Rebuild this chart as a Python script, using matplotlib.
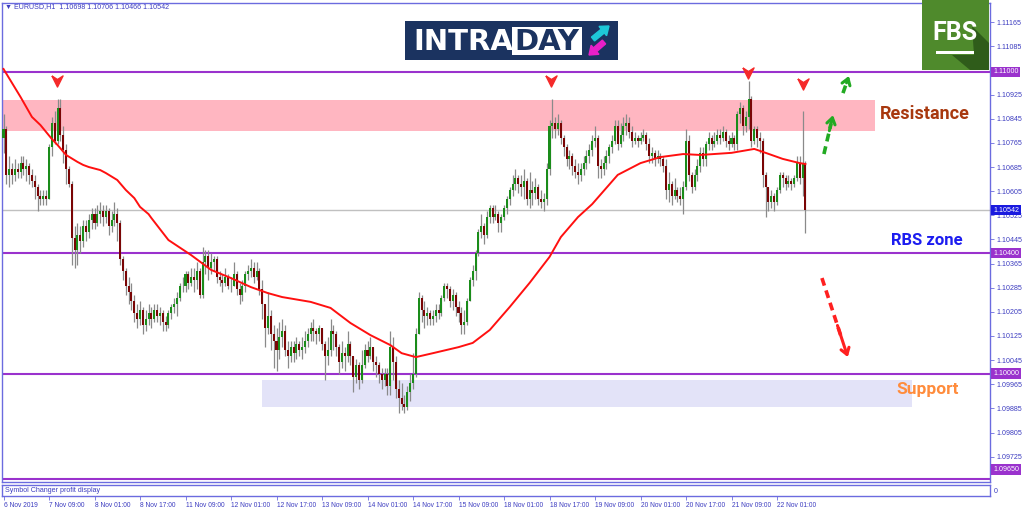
import numpy as np
import matplotlib
matplotlib.use("Agg")
import matplotlib.pyplot as plt
from matplotlib.patches import Rectangle, Polygon, FancyArrow

# --- EURUSD H1 candles ---
first_open = 1.1078
closes = [
    1.1081, 1.1066, 1.1068, 1.1066, 1.1068, 1.1067, 1.1070, 1.1068, 1.1069, 1.1066,
    1.1064, 1.1062, 1.1059, 1.1058, 1.1059, 1.1058, 1.1075, 1.1083, 1.1077, 1.1088,
    1.1079, 1.1074, 1.1068, 1.1063, 1.1045, 1.1041, 1.1046, 1.1044, 1.1049, 1.1047,
    1.1051, 1.1053, 1.1050, 1.1053, 1.1054, 1.1052, 1.1054, 1.1049, 1.1051, 1.1053,
    1.1050, 1.1038, 1.1034, 1.1029, 1.1027, 1.1024, 1.1020, 1.1018, 1.1021, 1.1016,
    1.1018, 1.1020, 1.1018, 1.1021, 1.1019, 1.1020, 1.1017, 1.1016, 1.1020, 1.1022,
    1.1023, 1.1025, 1.1029, 1.1029, 1.1033, 1.1030, 1.1032, 1.1031, 1.1034, 1.1026,
    1.1037, 1.1039, 1.1035, 1.1037, 1.1038, 1.1032, 1.1031, 1.1030, 1.1032, 1.1029,
    1.1029, 1.1033, 1.1028, 1.1026, 1.1029, 1.1033, 1.1034, 1.1035, 1.1032, 1.1034,
    1.1028, 1.1023, 1.1015, 1.1019, 1.1013, 1.1011, 1.1008, 1.1012, 1.1014, 1.1008,
    1.1006, 1.1009, 1.1007, 1.1010, 1.1008, 1.1009, 1.1011, 1.1013, 1.1015, 1.1014,
    1.1013, 1.1015, 1.1010, 1.1006, 1.1008, 1.1014, 1.1013, 1.1009, 1.1004, 1.1007,
    1.1006, 1.1010, 1.1006, 1.0999, 1.1003, 1.0998, 1.1003, 1.1008, 1.1006, 1.1009,
    1.1004, 1.1003, 1.1000, 1.0998, 1.1000, 1.0996, 1.1009, 1.1004, 1.0995, 1.0992,
    1.0990, 1.0989, 1.0994, 1.0997, 1.1000, 1.1013, 1.1025, 1.1021, 1.1019, 1.1020,
    1.1018, 1.1019, 1.1021, 1.1020, 1.1025, 1.1029, 1.1028, 1.1024, 1.1026, 1.1022,
    1.1020, 1.1016, 1.1017, 1.1024, 1.1031, 1.1034, 1.1040, 1.1047, 1.1049, 1.1046,
    1.1052, 1.1055, 1.1052, 1.1053, 1.1050, 1.1052, 1.1055, 1.1058, 1.1061, 1.1063,
    1.1065, 1.1063, 1.1062, 1.1064, 1.1058, 1.1061, 1.1060, 1.1062, 1.1058, 1.1057,
    1.1058, 1.1068, 1.1082, 1.1083, 1.1081, 1.1083, 1.1078, 1.1075, 1.1071, 1.1072,
    1.1069, 1.1067, 1.1066, 1.1068, 1.1070, 1.1072, 1.1074, 1.1077, 1.1078, 1.1069,
    1.1068, 1.1070, 1.1072, 1.1075, 1.1077, 1.1082, 1.1076, 1.1079, 1.1082, 1.1083,
    1.1080, 1.1077, 1.1078, 1.1077, 1.1078, 1.1079, 1.1076, 1.1072, 1.1073, 1.1071,
    1.1072, 1.1071, 1.1069, 1.1061, 1.1063, 1.1059, 1.1061, 1.1059, 1.1058, 1.1062,
    1.1077, 1.1066, 1.1062, 1.1066, 1.1069, 1.1073, 1.1071, 1.1076, 1.1078, 1.1076,
    1.1077, 1.1079, 1.1078, 1.1080, 1.1077, 1.1076, 1.1078, 1.1076, 1.1086, 1.1088,
    1.1082, 1.1085, 1.1091, 1.1077, 1.1081, 1.1078, 1.1077, 1.1066, 1.1062, 1.1057,
    1.1059, 1.1057, 1.1061, 1.1066, 1.1065, 1.1063, 1.1064, 1.1063, 1.1065, 1.1070,
    1.1065, 1.10698, 1.10542,
]
highs = [
    1.1086, 1.1082, 1.1072, 1.1070, 1.1071, 1.1070, 1.1072, 1.1072, 1.1071, 1.1070,
    1.1068, 1.1066, 1.1063, 1.1061, 1.1061, 1.1061, 1.1076, 1.1085, 1.1087, 1.1091,
    1.1091, 1.1082, 1.1076, 1.1069, 1.1064, 1.1049, 1.1050, 1.1049, 1.1051, 1.1051,
    1.1053, 1.1055, 1.1055, 1.1056, 1.1057, 1.1056, 1.1056, 1.1055, 1.1054, 1.1057,
    1.1055, 1.1051, 1.1039, 1.1035, 1.1032, 1.1030, 1.1026, 1.1023, 1.1024, 1.1022,
    1.1021, 1.1023, 1.1022, 1.1023, 1.1023, 1.1022, 1.1021, 1.1019, 1.1021, 1.1023,
    1.1025, 1.1027, 1.1030, 1.1032, 1.1034, 1.1034, 1.1035, 1.1035, 1.1037, 1.1035,
    1.1042, 1.1041, 1.1041, 1.1040, 1.1039, 1.1039, 1.1034, 1.1033, 1.1035, 1.1033,
    1.1032, 1.1037, 1.1034, 1.1030, 1.1031, 1.1034, 1.1036, 1.1038, 1.1037, 1.1037,
    1.1035, 1.1031, 1.1023, 1.1027, 1.1021, 1.1016, 1.1015, 1.1017, 1.1018, 1.1016,
    1.1011, 1.1011, 1.1011, 1.1012, 1.1011, 1.1012, 1.1014, 1.1015, 1.1017, 1.1018,
    1.1015, 1.1016, 1.1015, 1.1011, 1.1012, 1.1018, 1.1016, 1.1014, 1.1010, 1.1011,
    1.1009, 1.1014, 1.1011, 1.1006, 1.1005, 1.1004, 1.1008, 1.1010, 1.1011, 1.1012,
    1.1009, 1.1006, 1.1004, 1.1002, 1.1002, 1.1002, 1.1014, 1.1012, 1.1006, 1.0998,
    1.0997, 1.0993, 1.0996, 1.1000, 1.1007, 1.1015, 1.1027, 1.1026, 1.1024, 1.1022,
    1.1021, 1.1021, 1.1023, 1.1023, 1.1026, 1.1030, 1.1030, 1.1029, 1.1028, 1.1027,
    1.1024, 1.1022, 1.1021, 1.1025, 1.1032, 1.1036, 1.1041, 1.1048, 1.1053, 1.1050,
    1.1054, 1.1056, 1.1056, 1.1056, 1.1054, 1.1053, 1.1056, 1.1059, 1.1062, 1.1066,
    1.1068, 1.1066, 1.1066, 1.1068, 1.1065, 1.1067, 1.1064, 1.1065, 1.1063, 1.1061,
    1.1060, 1.1070, 1.1084, 1.1091, 1.1085, 1.1086, 1.1084, 1.1079, 1.1076, 1.1074,
    1.1073, 1.1071, 1.1070, 1.1070, 1.1072, 1.1074, 1.1076, 1.1079, 1.1082, 1.1079,
    1.1071, 1.1072, 1.1074, 1.1076, 1.1079, 1.1084, 1.1084, 1.1083, 1.1085, 1.1086,
    1.1085, 1.1082, 1.1080, 1.1079, 1.1080, 1.1081, 1.1080, 1.1078, 1.1075, 1.1074,
    1.1074, 1.1073, 1.1072, 1.1071, 1.1067, 1.1064, 1.1065, 1.1062, 1.1062, 1.1064,
    1.1081, 1.1079, 1.1067, 1.1068, 1.1071, 1.1075, 1.1075, 1.1077, 1.1080, 1.1079,
    1.1080, 1.1081, 1.1081, 1.1082, 1.1081, 1.1079, 1.1080, 1.1079, 1.1087, 1.1090,
    1.1089, 1.1087, 1.1097, 1.1092, 1.1082, 1.1082, 1.1080, 1.1078, 1.1067, 1.1062,
    1.1061, 1.1060, 1.1062, 1.1067, 1.1067, 1.1066, 1.1066, 1.1065, 1.1066, 1.1072,
    1.1072, 1.1087, 1.10706,
]
lows = [
    1.1073, 1.1063, 1.1062, 1.1063, 1.1064, 1.1065, 1.1065, 1.1066, 1.1064, 1.1063,
    1.1062, 1.1058, 1.1054, 1.1056, 1.1056, 1.1056, 1.1058, 1.1072, 1.1076, 1.1076,
    1.1077, 1.1070, 1.1063, 1.1062, 1.1036, 1.1035, 1.1036, 1.1040, 1.1042, 1.1044,
    1.1045, 1.1048, 1.1048, 1.1049, 1.1050, 1.1049, 1.1050, 1.1046, 1.1047, 1.1049,
    1.1044, 1.1036, 1.1031, 1.1026, 1.1023, 1.1021, 1.1017, 1.1015, 1.1016, 1.1013,
    1.1014, 1.1016, 1.1015, 1.1017, 1.1017, 1.1016, 1.1014, 1.1014, 1.1015, 1.1018,
    1.1020, 1.1019, 1.1024, 1.1027, 1.1027, 1.1028, 1.1029, 1.1027, 1.1028, 1.1025,
    1.1025, 1.1033, 1.1031, 1.1033, 1.1034, 1.1030, 1.1029, 1.1027, 1.1029, 1.1028,
    1.1027, 1.1029, 1.1026, 1.1023, 1.1024, 1.1027, 1.1031, 1.1032, 1.1030, 1.1031,
    1.1026, 1.1018, 1.1009, 1.1013, 1.1008, 1.1002, 1.1001, 1.1005, 1.1009, 1.1006,
    1.1002, 1.1004, 1.1004, 1.1005, 1.1006, 1.1005, 1.1007, 1.1009, 1.1011, 1.1011,
    1.1010, 1.1011, 1.1008, 1.0998, 1.1003, 1.1006, 1.1008, 1.1006, 1.1000, 1.1002,
    1.1001, 1.1004, 1.1003, 1.0994, 1.0997, 1.0995, 1.0997, 1.1002, 1.1004, 1.1005,
    1.1001, 1.0999, 1.0997, 1.0995, 1.0996, 1.0993, 1.0993, 1.0998, 1.0992, 1.0987,
    1.0988, 1.0987, 1.0988, 1.0991, 1.0995, 1.0999, 1.1013, 1.1017, 1.1015, 1.1016,
    1.1016, 1.1016, 1.1017, 1.1018, 1.1019, 1.1024, 1.1025, 1.1022, 1.1021, 1.1019,
    1.1017, 1.1013, 1.1013, 1.1016, 1.1024, 1.1029, 1.1031, 1.1039, 1.1045, 1.1043,
    1.1045, 1.1050, 1.1050, 1.1051, 1.1047, 1.1047, 1.1051, 1.1053, 1.1056, 1.1059,
    1.1061, 1.1060, 1.1059, 1.1058, 1.1056, 1.1055, 1.1056, 1.1058, 1.1056, 1.1055,
    1.1054, 1.1056, 1.1066, 1.1078, 1.1078, 1.1079, 1.1076, 1.1072, 1.1069, 1.1068,
    1.1066, 1.1065, 1.1063, 1.1064, 1.1066, 1.1068, 1.1070, 1.1072, 1.1075, 1.1065,
    1.1065, 1.1066, 1.1068, 1.1070, 1.1073, 1.1076, 1.1074, 1.1075, 1.1077, 1.1079,
    1.1078, 1.1075, 1.1076, 1.1075, 1.1076, 1.1077, 1.1074, 1.1070, 1.1070, 1.1069,
    1.1070, 1.1069, 1.1067, 1.1058, 1.1057, 1.1056, 1.1058, 1.1057, 1.1056, 1.1053,
    1.1061, 1.1064, 1.1060, 1.1061, 1.1064, 1.1067, 1.1069, 1.1069, 1.1074, 1.1074,
    1.1075, 1.1076, 1.1076, 1.1077, 1.1075, 1.1074, 1.1075, 1.1074, 1.1074, 1.1083,
    1.1079, 1.1080, 1.1081, 1.1075, 1.1076, 1.1075, 1.1073, 1.1062, 1.1052, 1.1054,
    1.1055, 1.1054, 1.1056, 1.1060, 1.1062, 1.1061, 1.1062, 1.1061, 1.1062, 1.1064,
    1.1063, 1.1059, 1.10466,
]

# red moving average, sampled along the line (bar index, price)
ma_bars = [0, 6, 10, 13, 15, 17, 19, 22, 26, 28, 30, 34, 36, 40, 43, 46, 48, 51, 52, 58,
           66, 73, 80, 87, 93, 98, 108, 115, 122, 129, 136, 140, 145, 151, 160, 165, 171,
           178, 185, 192, 196, 202, 207, 216, 224, 231, 239, 245, 256, 264, 268, 274,
           280, 282]
ma_values = [1.11010, 1.10917, 1.10851, 1.10824, 1.10801, 1.10778, 1.10758, 1.10725,
             1.10702, 1.10692, 1.10685, 1.10675, 1.10665, 1.10642, 1.10609, 1.10582,
             1.10553, 1.10529, 1.10516, 1.10443, 1.10393, 1.10344, 1.10317, 1.10287,
             1.10267, 1.10254, 1.10238, 1.10218, 1.10168, 1.10128, 1.10095, 1.10068,
             1.10055, 1.10068, 1.10088, 1.10102, 1.10145, 1.10221, 1.10301, 1.10387,
             1.10453, 1.10519, 1.10562, 1.10659, 1.10698, 1.10718, 1.10728, 1.10725,
             1.10732, 1.10745, 1.10732, 1.10712, 1.10698, 1.10695]

date_labels = ["6 Nov 2019", "7 Nov 09:00", "8 Nov 01:00", "8 Nov 17:00", "11 Nov 09:00",
               "12 Nov 01:00", "12 Nov 17:00", "13 Nov 09:00", "14 Nov 01:00", "14 Nov 17:00",
               "15 Nov 09:00", "18 Nov 01:00", "18 Nov 17:00", "19 Nov 09:00", "20 Nov 01:00",
               "20 Nov 17:00", "21 Nov 09:00", "22 Nov 01:00"]
label_step = 16

price_ticks = [1.11165, 1.11085, 1.10925, 1.10845, 1.10765, 1.10685, 1.10605, 1.10525,
               1.10445, 1.10365, 1.10285, 1.10205, 1.10125, 1.10045, 1.09965, 1.09885,
               1.09805, 1.09725]
levels = [1.11000, 1.10400, 1.10000, 1.09650]
last_price = 1.10542
resistance_zone = (1.10804, 1.10907)
support_zone = (1.09890, 1.09979)

# tops marked with red arrows
top_bars = [18.8, 192.5, 261.8, 281.1]
top_prices = [1.10970, 1.10970, 1.10997, 1.10960]

# --- colours ---
frame_col = "#6b6bdf"
label_col = "#3c3cc0"
purple = "#9a32cd"
bull_col = "#1a8c1a"
bear_col = "#7a0505"
wick_col = "#8a8a8a"

W, H = 1024, 511


def frect(x0, y0, x1, y1):
    # pixel box (top-left origin) -> figure fraction
    return [x0 / W, 1 - y1 / H, (x1 - x0) / W, (y1 - y0) / H]


fig = plt.figure(figsize=(W / 100, H / 100), dpi=100)
small = dict(fontsize=5.1, family=["Liberation Sans", "DejaVu Sans"])
tiny = dict(fontsize=4.8, family=["Liberation Sans", "DejaVu Sans"])

ax = fig.add_axes(frect(2, 3, 990, 482))
ax.set_xlim(-0.53, 346.9)
ax.set_ylim(1.096410, 1.112287)
for s in ax.spines.values():
    s.set_color(frame_col)
    s.set_linewidth(1.0)

# zones
ax.add_patch(Rectangle((-0.53, resistance_zone[0]), 307, resistance_zone[1] - resistance_zone[0],
                       fc="#ffb6c1", ec="none", zorder=1))
ax.add_patch(Rectangle((90.9, support_zone[0]), 228.5, support_zone[1] - support_zone[0],
                       fc="#e3e3f8", ec="none", zorder=1))

# levels
for lv in levels:
    ax.axhline(lv, color=purple, lw=1.5, zorder=2)
ax.axhline(last_price, color="#c0c0c0", lw=1.0, zorder=2)

# candles
c = np.array(closes)
o = np.array([first_open] + closes[:-1])
o[-1] = 1.10698
hi = np.array(highs)
lo = np.array(lows)
x = np.arange(len(c))
ax.vlines(x, lo, hi, color=wick_col, lw=0.9, zorder=3)
body = c - o
body = np.where(np.abs(body) < 0.00002, 0.00002, body)
cols = np.where(c >= o, bull_col, bear_col)
ax.bar(x, body, bottom=o, width=0.72, color=cols, edgecolor="none", zorder=4)

# moving average
ax.plot(ma_bars, ma_values, color="#ff1010", lw=1.4, zorder=5)

# red arrow markers above the tops
arrow_marker = [(-1, 1), (0, 0.35), (1, 1), (0, -1), (-1, 1)]
ax.plot(top_bars, top_prices, ls="none", marker=arrow_marker, ms=8, color="#f52a2a", zorder=6)


def dashed_arrow(start, end, color):
    frac = 0.78
    mid = (start[0] + (end[0] - start[0]) * frac, start[1] + (end[1] - start[1]) * frac)
    ax.plot([start[0], mid[0]], [start[1], mid[1]], color=color, lw=2.6,
            ls=(0, (2.2, 1.4)), solid_capstyle="butt", zorder=6)
    back = (start[0] + (end[0] - start[0]) * 0.6, start[1] + (end[1] - start[1]) * 0.6)
    ax.annotate("", xy=end, xytext=back,
                arrowprops=dict(arrowstyle="->,head_length=0.45,head_width=0.3",
                                color=color, lw=2.2, shrinkA=0, shrinkB=0), zorder=6)


dashed_arrow((288.5, 1.10728), (291.7, 1.10857), "#22aa22")
dashed_arrow((295.2, 1.10930), (297.3, 1.10987), "#22aa22")
dashed_arrow((287.8, 1.10317), (296.9, 1.10055), "#ff2020")

# zone labels
ax.text(324, 1.10861, "Resistance", color="#a8380e", fontsize=13, fontweight="bold",
        family="Roboto", ha="center", va="center", zorder=7)
ax.text(324.7, 1.10440, "RBS zone", color="#1c1cf0", fontsize=12, fontweight="bold",
        family="Roboto", ha="center", va="center", zorder=7)
ax.text(325, 1.09946, "Support", color="#ff8c3c", fontsize=12.5, fontweight="bold",
        family="Roboto", ha="center", va="center", zorder=7)

# right price axis
ax.yaxis.tick_right()
ax.set_yticks(price_ticks)
ax.set_yticklabels([f"{p:.5f}" for p in price_ticks], **small)
ax.tick_params(axis="y", direction="out", length=3, width=0.6, color=frame_col,
               labelcolor=label_col, pad=2)
ax.set_xticks([])

for lv in levels:
    dy = 7 if lv == levels[-1] else 0
    ax.annotate(f"{lv:.5f}", xy=(1, lv), xycoords=("axes fraction", "data"),
                xytext=(2.2, dy), textcoords="offset points", ha="left", va="center",
                color="white", bbox=dict(boxstyle="square,pad=0.25", fc=purple, ec="none"),
                annotation_clip=False, zorder=8, **small)
ax.annotate(f"{last_price:.5f}", xy=(1, last_price), xycoords=("axes fraction", "data"),
            xytext=(2.2, 0), textcoords="offset points", ha="left", va="center",
            color="white", bbox=dict(boxstyle="square,pad=0.25", fc="#1a1adf", ec="none"),
            annotation_clip=False, zorder=8, **small)

# indicator sub-window and time axis
ax2 = fig.add_axes(frect(2, 485, 990, 496))
ax2.set_xlim(ax.get_xlim())
ax2.set_yticks([])
for s in ax2.spines.values():
    s.set_color(frame_col)
    s.set_linewidth(1.0)
ticks = [i * label_step for i in range(len(date_labels))]
ax2.set_xticks(ticks)
ax2.set_xticklabels(date_labels, ha="left", **tiny)
ax2.tick_params(axis="x", direction="out", length=3, width=0.6, color=frame_col,
                labelcolor=label_col, pad=1.5)
ax2.text(0.003, 0.5, "Symbol Changer profit display", transform=ax2.transAxes,
         va="center", ha="left", color=label_col, **small)
fig.text(994 / W, 1 - 491 / H, "0", va="center", ha="left", color=label_col, **small)

fig.text(5 / W, 1 - 7 / H, "\u25bc EURUSD,H1  1.10698 1.10706 1.10466 1.10542",
         va="center", ha="left", color=label_col, **small)

# INTRADAY badge
lax = fig.add_axes(frect(405, 21, 618, 60))
lax.set_xlim(0, 213)
lax.set_ylim(39, 0)
lax.axis("off")
navy = "#1b3360"
lax.add_patch(Rectangle((0, 0), 213, 39, fc=navy, ec="none"))
lax.text(8, 20.5, "INTRA", color="white", fontsize=21, fontweight="bold", family="DejaVu Sans",
         ha="left", va="center")
lax.add_patch(Rectangle((107, 6), 70, 28, fc="white", ec="none"))
lax.text(142, 20.5, "DAY", color=navy, fontsize=21, fontweight="bold", family="DejaVu Sans",
         ha="center", va="center")
lax.add_patch(FancyArrow(188, 18, 16, -13, width=5, head_width=12, head_length=8,
                         length_includes_head=True, color="#1ec8d8"))
lax.add_patch(FancyArrow(199, 21, -15, 13, width=5, head_width=12, head_length=8,
                         length_includes_head=True, color="#e820c8"))

# FBS badge
fax = fig.add_axes(frect(922, 0, 989, 70))
fax.set_xlim(0, 67)
fax.set_ylim(70, 0)
fax.axis("off")
fax.add_patch(Rectangle((0, 0), 67, 70, fc="#4f8a2c", ec="none"))
fax.add_patch(Polygon([(50, 26), (67, 43), (67, 70), (48, 70), (30, 55), (52, 55)],
                      fc="#2f5c1a", ec="none"))
fax.text(33, 33, "FBS", color="white", fontsize=18, fontweight="bold", family="Roboto",
         ha="center", va="center")
fax.add_patch(Rectangle((14, 51), 38, 3, fc="white", ec="none"))

fig.savefig("out.png", dpi=100)
